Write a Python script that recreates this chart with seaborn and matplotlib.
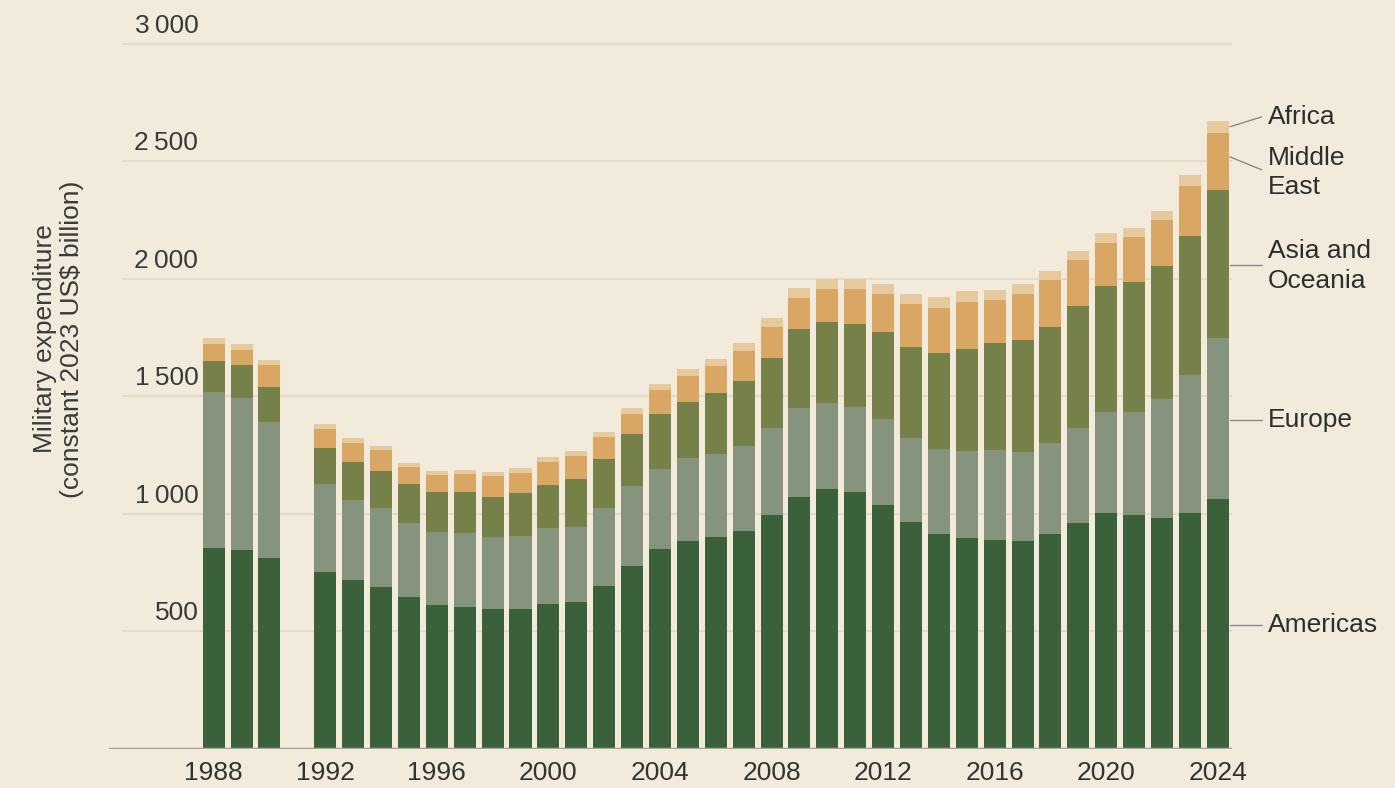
import matplotlib
matplotlib.use("Agg")
import matplotlib.pyplot as plt
import numpy as np
import pandas as pd
import seaborn as sns

years = [1988, 1989, 1990, 1991] + list(range(1992, 2025))

# values (constant 2023 US$ billion); 1991 has no data
americas = [857, 847, 811, np.nan, 752, 719, 688, 648, 613, 606, 594, 594, 616, 624, 694,
            779, 850, 885, 903, 929, 996, 1074, 1105, 1095, 1038, 965, 914, 897, 890,
            886, 913, 960, 1005, 996, 984, 1003, 1062]
europe = [663, 648, 582, np.nan, 374, 341, 339, 312, 312, 314, 307, 312, 323, 322, 330,
          340, 340, 352, 352, 360, 371, 378, 369, 362, 365, 360, 361, 371, 382,
          379, 388, 404, 430, 439, 505, 588, 686]
asia_oceania = [130, 139, 149, np.nan, 153, 160, 157, 168, 167, 172, 173, 182, 184, 203, 210,
                220, 234, 241, 259, 277, 295, 334, 342, 351, 370, 384, 409, 433, 457,
                475, 493, 522, 535, 553, 567, 592, 628]
middle_east = [74, 65, 90, np.nan, 84, 83, 86, 72, 74, 77, 87, 86, 96, 97, 93,
               87, 102, 110, 115, 127, 132, 132, 140, 148, 162, 183, 191, 202, 181,
               196, 202, 195, 184, 192, 195, 213, 244]
africa = [25, 24, 23, np.nan, 19, 19, 19, 18, 18, 18, 19, 20, 22, 22, 23,
          24, 26, 28, 30, 33, 39, 42, 43, 43, 44, 44, 50, 47, 43,
          41, 39, 39, 43, 38, 39, 46, 53]

regions = ["Americas", "Europe", "Asia and Oceania", "Middle East", "Africa"]
colors = ["#3a613b", "#86947e", "#76814a", "#d9a664", "#e7c99e"]
BG = "#f2ebdc"

df = pd.DataFrame({"year": years, "Americas": americas, "Europe": europe,
                   "Asia and Oceania": asia_oceania, "Middle East": middle_east,
                   "Africa": africa})
cum = df[regions].cumsum(axis=1)
cum["year"] = df["year"]

sns.set_theme(style="white", rc={"axes.facecolor": BG, "figure.facecolor": BG})
plt.rcParams["font.family"] = ["Liberation Sans", "DejaVu Sans"]

fig = plt.figure(figsize=(13.95, 7.88), dpi=100)
ax = fig.add_axes([0.078, 0.0495, 0.805, 0.9125])

# layered cumulative bars: top layer first, each smaller total painted over it
for region, color in reversed(list(zip(regions, colors))):
    sns.barplot(data=cum, x="year", y=region, native_scale=True, color=color,
                saturation=1, width=0.79, errorbar=None, ax=ax, zorder=3,
                linewidth=0)

ax.set_xlim(1984.24, 2024.5)
ax.set_ylim(0, 3059)

# gridlines and baseline
for v in [500, 1000, 1500, 2000, 2500, 3000]:
    ax.hlines(v, 1984.7, 2024.5, color="#e2d9c5", lw=1.2, zorder=1)
ax.axhline(0, color="#a8a39a", lw=2.5, zorder=4)

# y labels sitting above the gridlines
for v in [500, 1000, 1500, 2000, 2500, 3000]:
    lab = f"{v:,}".replace(",", "\u2009")
    ax.text(1987.45, v + 26, lab, ha="right", va="bottom", fontsize=19,
            color="#3a3a3a")

ax.set_yticks([])
ax.set_xticks(list(range(1988, 2025, 4)))
ax.set_xticklabels([str(y) for y in range(1988, 2025, 4)], fontsize=19, color="#333333")
ax.tick_params(axis="x", length=0, pad=9)
ax.set_xlabel("")
ax.set_ylabel("")
for s in ax.spines.values():
    s.set_visible(False)

fig.text(0.042, 0.57, "Military expenditure\n(constant 2023 US$ billion)", rotation=90,
         ha="center", va="center", fontsize=19, color="#3a3a3a", linespacing=1.15)

# right-hand labels with leader lines
labels = [
    ("Africa", 2689, 2647, 2689),
    ("Middle\nEast", 2452, 2519, 2464),
    ("Asia and\nOceania", 2055, 2059, 2059),
    ("Europe", 1400, 1400, 1400),
    ("Americas", 528, 528, 528),
]
for text, ty, y0, y1 in labels:
    ax.plot([2024.43, 2025.57], [y0, y1], color="#8a8a8a", lw=1, clip_on=False, zorder=5)
    ax.text(2025.79, ty, text, ha="left", va="center", fontsize=19, color="#2e2e2e",
            linespacing=1.3, clip_on=False)

fig.savefig("out.png", dpi=100, facecolor=BG)
